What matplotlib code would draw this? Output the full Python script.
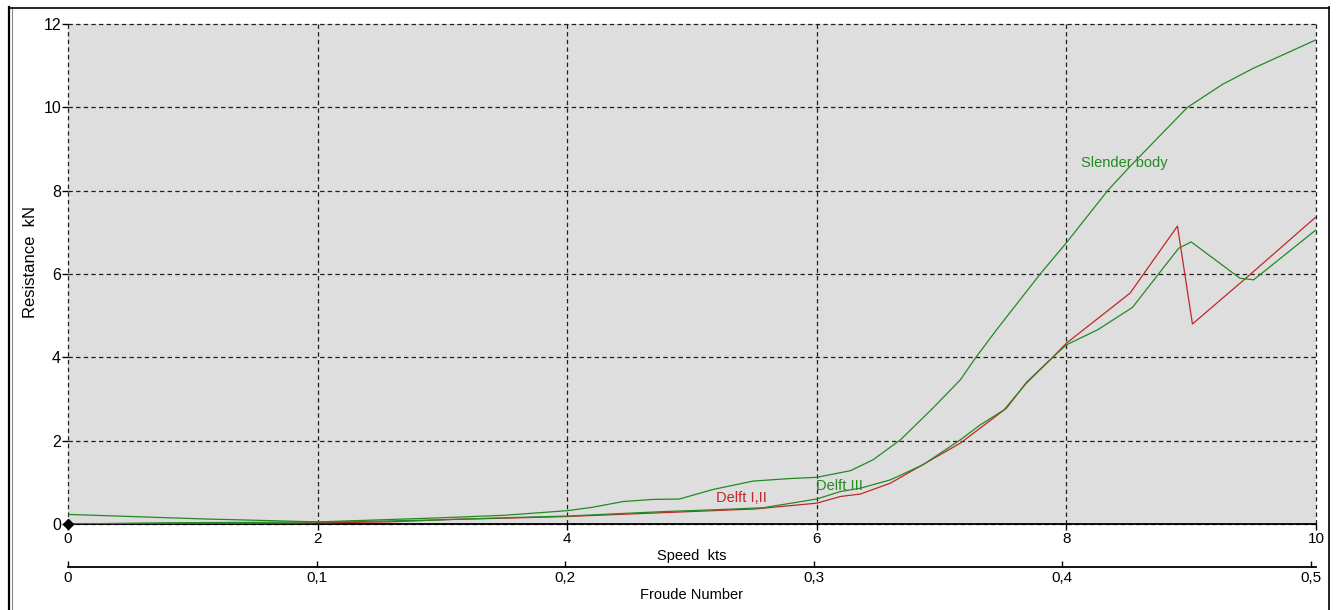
import numpy as np
import matplotlib
matplotlib.use("Agg")
import matplotlib.pyplot as plt
from matplotlib.lines import Line2D
from matplotlib.ticker import FuncFormatter

plt.rcParams['font.family'] = ['Liberation Sans', 'DejaVu Sans']

# Resistance curves (speed in knots, resistance in kN)
slender_kts = [0.0, 0.3, 0.7, 1.1, 1.5, 2.0, 2.2, 2.5, 3.0, 3.5, 4.0, 4.2, 4.45, 4.69,
               4.9, 5.17, 5.49, 5.78, 6.0, 6.27, 6.45, 6.67, 6.93, 7.15, 7.27, 7.44,
               7.79, 8.0, 8.33, 8.5, 8.97, 9.25, 9.5, 10.0]
slender_kn = [0.23, 0.20, 0.16, 0.12, 0.09, 0.05, 0.07, 0.10, 0.15, 0.21, 0.32, 0.40,
              0.54, 0.59, 0.60, 0.83, 1.03, 1.09, 1.12, 1.28, 1.54, 2.02, 2.78, 3.46,
              3.98, 4.66, 6.00, 6.75, 8.00, 8.55, 10.00, 10.55, 10.94, 11.62]

delft3_kts = [0.0, 0.8, 1.5, 2.0, 2.5, 3.0, 3.5, 4.0, 4.42, 4.79, 5.17, 5.57, 6.0, 6.19,
              6.35, 6.59, 6.85, 7.15, 7.31, 7.5, 7.68, 7.89, 8.0, 8.25, 8.53, 8.9, 9.0,
              9.39, 9.5, 10.0]
delft3_kn = [0.0, 0.03, 0.04, 0.05, 0.07, 0.10, 0.15, 0.19, 0.25, 0.30, 0.34, 0.39,
             0.60, 0.78, 0.86, 1.06, 1.42, 2.02, 2.38, 2.74, 3.38, 4.00, 4.30, 4.66,
             5.20, 6.62, 6.77, 5.90, 5.86, 7.06]

delft12_kts = [0.0, 1.8, 2.56, 2.82, 3.07, 3.5, 4.0, 4.5, 5.0, 5.5, 6.0, 6.19, 6.35,
               6.59, 7.15, 7.52, 7.68, 7.89, 8.0, 8.51, 8.89, 9.01, 9.45, 10.0]
delft12_kn = [0.0, 0.02, 0.05, 0.08, 0.11, 0.14, 0.18, 0.24, 0.30, 0.36, 0.50, 0.66,
              0.72, 0.98, 1.94, 2.78, 3.40, 4.00, 4.34, 5.54, 7.15, 4.80, 5.93, 7.37]

speed_ticks = [0, 2, 4, 6, 8, 10]
resistance_ticks = [0, 2, 4, 6, 8, 10, 12]
froude_ticks = [0.0, 0.1, 0.2, 0.3, 0.4, 0.5]

# waterline length used for the Froude number scale (m)
LWL = 10.7
KNOT = 0.5144
G = 9.81

GREEN = '#238a23'
RED = '#c02828'
W, H = 1340, 610

fig = plt.figure(figsize=(W / 100, H / 100), dpi=100)
ax = fig.add_axes([68 / W, (H - 524) / H, 1248 / W, 500 / H])
ax.set_facecolor('#dedede')
ax.set_xlim(0, 10)
ax.set_ylim(0, 12)

for side in ('top', 'right', 'left'):
    ax.spines[side].set_visible(False)
ax.spines['bottom'].set_linewidth(1.3)
ax.spines['bottom'].set_color('black')

ax.set_xticks(speed_ticks)
ax.set_yticks(resistance_ticks)
ax.tick_params(axis='x', direction='out', length=4, width=1, pad=2, labelsize=11)
ax.tick_params(axis='y', direction='out', length=4, width=1, pad=1, labelsize=11.5)
ax.set_axisbelow(True)
ax.grid(True, color='#1e1e1e', linestyle=(0, (3.5, 2.6)), linewidth=0.9)
for gl in ax.get_xgridlines() + ax.get_ygridlines():
    gl.set_clip_on(False)

ax.plot(slender_kts, slender_kn, color=GREEN, lw=0.9, zorder=3)
ax.plot(delft12_kts, delft12_kn, color=RED, lw=0.9, zorder=3)
ax.plot(delft3_kts, delft3_kn, color=GREEN, lw=0.9, zorder=4)
ax.plot([0], [0], marker='D', color='black', markersize=5, clip_on=False, zorder=6)

ax.text(8.12, 8.66, 'Slender body', color=GREEN, fontsize=10.5, va='center', ha='left')
ax.text(5.99, 0.91, 'Delft III', color=GREEN, fontsize=10.5, va='center', ha='left')
ax.text(5.19, 0.62, 'Delft I,II', color=RED, fontsize=10.5, va='center', ha='left')

ax.set_xlabel('Speed  kts', fontsize=10.5, labelpad=2)
ax.set_ylabel('Resistance  kN', fontsize=12)
ax.yaxis.set_label_coords((38 - 68) / 1248, (524 - 262) / 500)


def kts_to_fn(v):
    return np.asarray(v) * KNOT / np.sqrt(G * LWL)


def fn_to_kts(fn):
    return np.asarray(fn) * np.sqrt(G * LWL) / KNOT


def comma_fmt(v, pos):
    if abs(v) < 1e-9:
        return '0'
    return f'{v:.1f}'.replace('.', ',')


sec = ax.secondary_xaxis(-0.086, functions=(kts_to_fn, fn_to_kts))
sec.set_xticks(froude_ticks)
sec.xaxis.set_major_formatter(FuncFormatter(comma_fmt))
sec.tick_params(direction='in', length=4, width=1, pad=3, labelsize=11)
sec.spines['bottom'].set_linewidth(1.3)
sec.set_xlabel('Froude Number', fontsize=10.5, labelpad=2)

# window frame
def px_line(x, y, **kw):
    fig.add_artist(Line2D([v / W for v in x], [1 - v / H for v in y],
                          transform=fig.transFigure, **kw))


px_line([9, 9], [7, H], color='black', lw=1.6)
px_line([11.8, 11.8], [7, H], color='#8a8a8a', lw=0.8)
px_line([9, 1329], [7.5, 7.5], color='black', lw=1.2)
px_line([1328.5, 1328.5], [7, H], color='black', lw=1.2)

fig.savefig('out.png', dpi=100, facecolor='white')
